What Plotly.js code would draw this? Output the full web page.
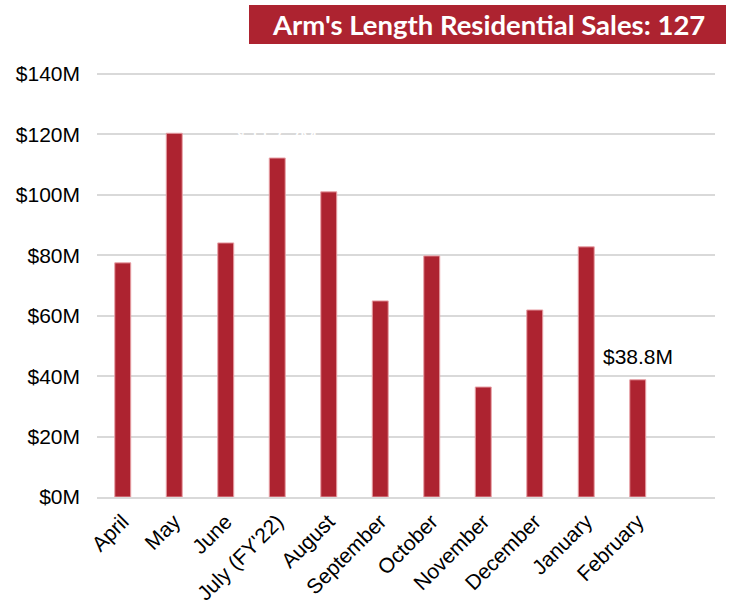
<!DOCTYPE html>
<html>
<head>
<meta charset="utf-8">
<script src="https://cdn.plot.ly/plotly-3.0.1.min.js"></script>
<style>html,body{margin:0;padding:0;background:#fff;}#chart{width:732px;height:609px;}</style>
</head>
<body>
<div id="chart"></div>
<script>
const months = ["April","May","June","July (FY'22)","August","September","October","November","December","January","February"];
const salesM = [77.5, 120.4, 84.1, 112.2, 101.0, 64.9, 79.8, 36.4, 61.9, 82.8, 38.8];
const labelText = ["", "", "", "$112.2M", "", "", "", "", "", "", "$38.8M"];
const labelColor = ["#fff","#fff","#fff","#fff","#fff","#fff","#fff","#fff","#fff","#fff","#000"];
const yTicks = [0,20,40,60,80,100,120,140];
const yTickText = yTicks.map(v => "$" + v + "M");
const titleText = "Arm's Length Residential Sales: 127";

const FONT = 'Liberation Sans, Arial, sans-serif';
const annotations = [];
months.forEach((m, i) => {
  if (labelText[i]) {
    annotations.push({x: m, y: salesM[i], xref: 'x', yref: 'y', text: labelText[i],
      showarrow: false, yanchor: 'middle', yshift: 23,
      font: {family: FONT, size: 21, color: labelColor[i]}});
  }
});
annotations.push({xref: 'paper', yref: 'paper', x: (488-97)/618, y: 1.0, yshift: 46,
  text: '<b>' + titleText + '</b>', showarrow: false, xanchor: 'center', yanchor: 'middle',
  font: {family: 'Lato, Open Sans, sans-serif', size: 27.5, color: '#fff'}});

const layout = {
  width: 732, height: 609,
  margin: {l: 97, r: 17, t: 70, b: 112},
  paper_bgcolor: '#fff', plot_bgcolor: '#fff',
  showlegend: false,
  bargap: 0.69,
  xaxis: {type: 'category', range: [-0.5, 11.5], tickangle: -45, showgrid: false,
    showline: true, linecolor: '#d9d9d9', linewidth: 2, ticks: '', zeroline: false,
    ticklabelstandoff: 2,
    tickfont: {family: FONT, size: 21, color: '#000'}, automargin: false},
  yaxis: {range: [0, 141.33], tickvals: yTicks, ticktext: yTickText, showgrid: true,
    gridcolor: '#d9d9d9', gridwidth: 2, zeroline: false, showline: false, ticks: '',
    ticklabelstandoff: 16,
    tickfont: {family: FONT, size: 21, color: '#000'}, automargin: false},
  shapes: [{type: 'rect', xref: 'paper', yref: 'paper', x0: (249-97)/618, x1: (726-97)/618,
    y0: 1 + (70-44)/427, y1: 1 + (70-5)/427, fillcolor: '#AD2330', line: {width: 0}}],
  annotations: annotations
};

Plotly.newPlot('chart', [{
  type: 'bar', x: months, y: salesM,
  marker: {color: '#AD2330', line: {color: '#e8a0a6', width: 1}},
  hoverinfo: 'none'
}], layout, {displayModeBar: false, staticPlot: true});
</script>
</body>
</html>
